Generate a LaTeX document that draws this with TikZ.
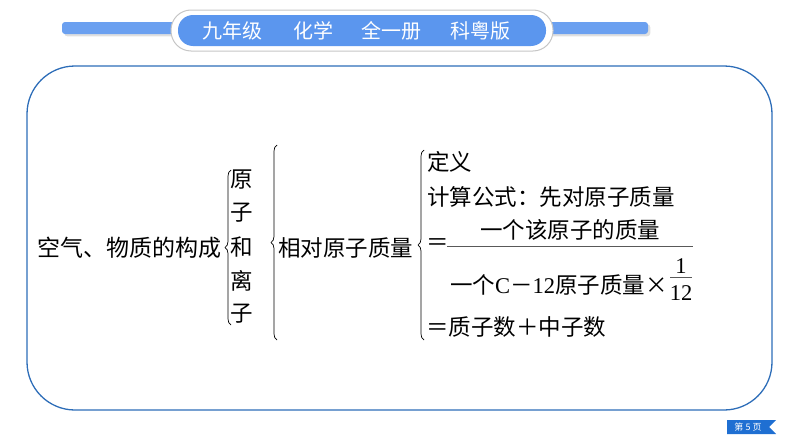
\documentclass[tikz,border=0pt]{standalone}
\usepackage{fontspec}
\setmainfont{Liberation Serif}
\newfontfamily\cjk{Noto Sans CJK SC}
\usetikzlibrary{decorations.pathreplacing,shadows}
\definecolor{headblue}{HTML}{5B96EE}
\definecolor{framebl}{HTML}{2D6DB8}
\definecolor{badgebl}{HTML}{1F6FD2}
\tikzset{
  txt/.style={inner sep=0pt, font=\cjk\fontsize{22.5}{26}\selectfont},
  hd/.style={inner sep=0pt, text=white, font=\cjk\fontsize{20}{24}\selectfont},
  brc/.style={decorate, decoration={brace, amplitude=6pt, aspect=0.5}, line width=0.7pt},
  fbar/.style={line width=1pt, black!65},
}
\begin{document}
\begin{tikzpicture}[x=1pt,y=-1pt]
\useasboundingbox (0,0) rectangle (794,447);
% header
\fill[headblue!90, rounded corners=3pt, drop shadow={opacity=0.25}] (62,22) rectangle (180,34);
\fill[headblue!90, rounded corners=3pt, drop shadow={opacity=0.25}] (545,22) rectangle (648,34);
\draw[gray!45, fill=white, line width=1pt, rounded corners=20pt] (171,10) rectangle (553,51);
\fill[headblue, rounded corners=15pt] (178,15) rectangle (546,46);
\node[hd] (h1) at (232,31) {九年级};
\node[hd] (h2) at (313,31) {化学};
\node[hd] (h3) at (391,31) {全一册};
\node[hd] (h4) at (480,31) {科粤版};
% frame
\draw[framebl, line width=1.3pt, rounded corners=48pt] (27,66) rectangle (772,410);
% first level
\node[txt, anchor=west, font=\cjk\fontsize{23}{26}\selectfont] (air) at (37,248) {空气、物质的构成};
\coordinate (b1s) at (231,325);
\coordinate (b1e) at (231,170);
\draw[brc] (b1s) -- (b1e);
\node[txt] (c1) at (242,180) {原};
\node[txt] (c2) at (242,213) {子};
\node[txt] (c3) at (242,247) {和};
\node[txt] (c4) at (242,281) {离};
\node[txt] (c5) at (242,314) {子};
% second level
\coordinate (b2s) at (277,340);
\coordinate (b2e) at (277,145);
\draw[brc] (b2s) -- (b2e);
\node[txt, anchor=west] (ram) at (278,248) {相对原子质量};
% third level
\coordinate (b3s) at (424,340);
\coordinate (b3e) at (424,150);
\draw[brc] (b3s) -- (b3e);
\node[txt, anchor=west] (def) at (427,162) {定义};
\node[txt, anchor=west] (calc) at (427,197) {计算公式：先对原子质量};
\node[txt, anchor=west] (eq1) at (426,245) {＝};
\node[txt] (num) at (570,230) {一个该原子的质量};
\coordinate (fa) at (447,246);
\coordinate (fb) at (693,246);
\draw[fbar] (fa) -- (fb);
\node[txt, anchor=west] (den) at (450,285) {一个\fontspec{Liberation Serif}C\cjk－\fontspec{Liberation Serif}12\cjk 原子质量×};
\node[inner sep=0pt, font=\fontsize{22.5}{26}\selectfont] (one) at (681,266) {1};
\coordinate (ga) at (670,277);
\coordinate (gb) at (692,277);
\draw[fbar] (ga) -- (gb);
\node[inner sep=0pt, font=\fontsize{22.5}{26}\selectfont] (twelve) at (681,293) {12};
\node[txt, anchor=west] (sum) at (426,327) {＝质子数＋中子数};
% page badge
\fill[badgebl] (727,420) -- (776,420) -- (769,427) -- (776,434) -- (727,434) -- cycle;
\node[inner sep=0pt, text=white, font=\cjk\fontsize{9}{10}\selectfont] (pg) at (748,427) {第 5 页};
\end{tikzpicture}
\end{document}
